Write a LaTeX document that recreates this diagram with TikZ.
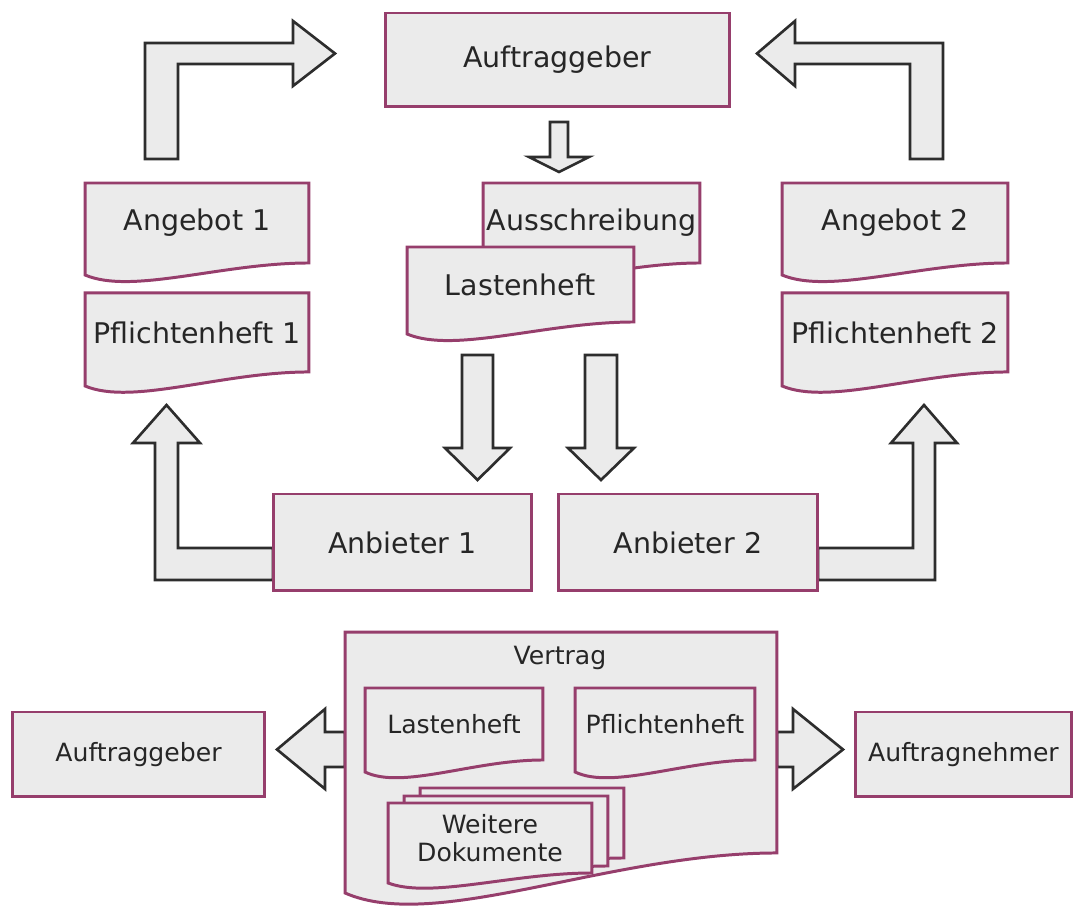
\documentclass[tikz,border=0pt]{standalone}
\usepackage{fontspec}
\setmainfont{DejaVu Sans}
\usetikzlibrary{calc,backgrounds}

\definecolor{boxline}{RGB}{150,62,108}
\definecolor{boxfill}{RGB}{235,235,235}
\definecolor{arrowline}{RGB}{45,45,45}

% sheet with a wavy lower edge, drawn round an existing node
\newcommand{\docshape}[3]{%
  \draw[doc line] (#1.north west) -- (#1.north east) -- (#1.south east)
    .. controls ($(#1.south east)!0.39!(#1.south west)$)
    and ($(#1.south west)!0.21!(#1.south east)+(0,#3)$)
    .. ($(#1.south west)+(0,#2)$) -- cycle;}

\begin{document}
\begin{tikzpicture}[x=0.02cm,y=-0.02cm,node distance=2.19cm,
    main box/.style={rectangle,draw=boxline,fill=boxfill,line width=1.7pt,
      inner sep=0pt,outer sep=0pt,text=black!85,font=\fontsize{16.2}{19}\selectfont},
    small box/.style={main box,font=\fontsize{14.3}{17}\selectfont},
    doc node/.style={rectangle,inner sep=0pt,outer sep=0pt,text=black!85,
      font=\fontsize{16.2}{19}\selectfont},
    small doc/.style={doc node,align=center,font=\fontsize{14.3}{16}\selectfont},
    doc line/.style={draw=boxline,fill=boxfill,line width=1.7pt},
    block arrow/.style={draw=arrowline,fill=boxfill,line width=1.5pt}]
    \useasboundingbox (0,0) rectangle (1079,911);

    % upper part
    \node[main box,minimum width=6.9cm,minimum height=1.88cm] (ag) at (557.5,60) {Auftraggeber};
    \node[doc node,minimum width=4.48cm,minimum height=1.6cm] (ang1) at (197,223) {Angebot 1};
    \node[doc node,minimum width=4.48cm,minimum height=1.58cm] (pfl1) [below of=ang1] {Pflichtenheft 1};
    \node[doc node,minimum width=4.52cm,minimum height=1.6cm] (ang2) at (895,223) {Angebot 2};
    \node[doc node,minimum width=4.52cm,minimum height=1.58cm] (pfl2) [below of=ang2] {Pflichtenheft 2};
    \node[doc node,minimum width=4.34cm,minimum height=1.6cm] (aus) at (591.5,223) {Ausschreibung};
    \node[doc node,minimum width=4.54cm,minimum height=1.5cm] (lh) at (520.5,284.5) {Lastenheft};
    \node[main box,minimum width=5.18cm,minimum height=1.94cm] (anb1) at (402.5,542.5) {Anbieter 1};
    \node[main box,minimum width=5.2cm,minimum height=1.94cm] (anb2) at (688,542.5) {Anbieter 2};

    % lower part
    \node[small box,minimum width=5.06cm,minimum height=1.7cm] (agb) at (138.5,754.5) {Auftraggeber};
    \node[small box,minimum width=4.34cm,minimum height=1.7cm] (an) at (963.5,754.5) {Auftragnehmer};
    \node[small doc,minimum width=8.64cm,minimum height=4.42cm] (vertrag) at (561,742.5) {};
    \node[small doc] (vtitle) at (560,658) {Vertrag};
    \node[small doc,minimum width=3.56cm,minimum height=1.44cm] (ilh) at (454,724) {Lastenheft};
    \node[small doc,minimum width=3.6cm,minimum height=1.44cm] (ipf) at (665,724) {Pflichtenheft};
    \node[small doc,minimum width=4.08cm,minimum height=1.4cm] (wd1) at (490,838) {Weitere\\Dokumente};
    \node[small doc,minimum width=4.08cm,minimum height=1.4cm] (wd2) at ($(wd1)+(16,-7)$) {};
    \node[small doc,minimum width=4.08cm,minimum height=1.4cm] (wd3) at ($(wd1)+(32,-15)$) {};

    \begin{scope}[on background layer]
    % arrows
    \draw[block arrow] (145,159) -- (145,43) -- (293,43) -- (293,21) -- (335,53.5)
      -- (293,86) -- (293,64) -- (178,64) -- (178,159) -- cycle;
    \draw[block arrow] (943,159) -- (943,43) -- (795,43) -- (795,21) -- (757,53.5)
      -- (795,86) -- (795,64) -- (910,64) -- (910,159) -- cycle;
    \draw[block arrow] (550,122) -- (568,122) -- (568,157) -- (589,157) -- (559,172)
      -- (529,157) -- (550,157) -- cycle;
    \draw[block arrow] (462,355) -- (493,355) -- (493,448) -- (510,448) -- (477.5,480)
      -- (445,448) -- (462,448) -- cycle;
    \draw[block arrow] (585,355) -- (617,355) -- (617,448) -- (634,448) -- (601,480)
      -- (568,448) -- (585,448) -- cycle;
    \draw[block arrow] (273,548) -- (178,548) -- (178,443) -- (200,443) -- (166.5,405)
      -- (133,443) -- (155,443) -- (155,580) -- (273,580) -- cycle;
    \draw[block arrow] (818,548) -- (913,548) -- (913,443) -- (891,443) -- (924,405)
      -- (957,443) -- (935,443) -- (935,580) -- (818,580) -- cycle;
    \draw[block arrow] (345,732) -- (325,732) -- (325,709) -- (277,749.5) -- (325,789)
      -- (325,767) -- (345,767) -- cycle;
    \draw[block arrow] (777,732) -- (793,732) -- (793,709) -- (843,749.5) -- (793,789)
      -- (793,767) -- (777,767) -- cycle;
    % documents
    \docshape{aus}{12}{32}
    \docshape{lh}{12}{32}
    \docshape{ang1}{12}{32}
    \docshape{pfl1}{14}{34}
    \docshape{ang2}{12}{32}
    \docshape{pfl2}{14}{34}
    \docshape{vertrag}{40}{80}
    \docshape{ilh}{12}{30}
    \docshape{ipf}{12}{30}
    \docshape{wd3}{10}{26}
    \docshape{wd2}{10}{26}
    \docshape{wd1}{10}{26}
    \end{scope}
\end{tikzpicture}
\end{document}
